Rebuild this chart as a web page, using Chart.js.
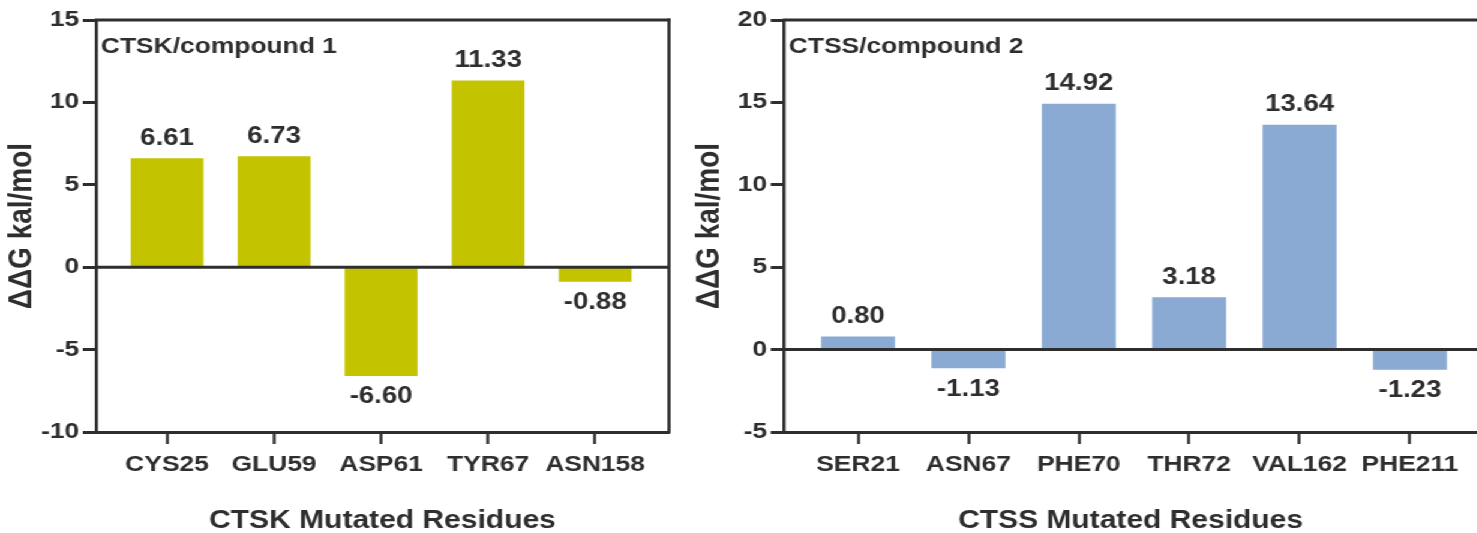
<!DOCTYPE html>
<html>
<head>
<meta charset="utf-8">
<script src="https://cdn.jsdelivr.net/npm/chart.js@4"></script>
<style>
  body { margin: 0; background: #fff; overflow: hidden; }
  /* the source figure is stretched sideways, so the whole drawing is too */
  #wrap { position: relative; width: 1231px; height: 533px; transform: scaleX(1.2); transform-origin: 0 0; }
  #wrap canvas { position: absolute; top: 0; }
</style>
</head>
<body>
<div id="wrap">
  <canvas id="ctsk" width="573" height="533" style="left:0"></canvas>
  <canvas id="ctss" width="658" height="533" style="left:573px"></canvas>
</div>
<script>
const ctskResidues = ["CYS25", "GLU59", "ASP61", "TYR67", "ASN158"];
const ctskDeltaG = [6.61, 6.73, -6.60, 11.33, -0.88];

const ctssResidues = ["SER21", "ASN67", "PHE70", "THR72", "VAL162", "PHE211"];
const ctssDeltaG = [0.80, -1.13, 14.92, 3.18, 13.64, -1.23];

const yTitle = "ΔΔG kal/mol";

const INK = "#2e2e2e";
const FONT = '"Liberation Sans", Arial, sans-serif';

function framePlugin(panelTitle, closeRight) {
  return {
    id: "frame",
    afterDatasetsDraw(chart) {
      const { ctx, chartArea: a, scales: { y } } = chart;
      ctx.save();
      ctx.strokeStyle = INK;
      ctx.lineWidth = 3;
      ctx.beginPath();
      ctx.moveTo(a.left - 1, a.top);
      ctx.lineTo(a.right + 1, a.top);
      const y0 = y.getPixelForValue(0);
      ctx.moveTo(a.left, y0);
      ctx.lineTo(a.right, y0);
      ctx.stroke();
      if (closeRight) {
        ctx.lineWidth = 2.6;
        ctx.beginPath();
        ctx.moveTo(a.right, a.top - 1.5);
        ctx.lineTo(a.right, a.bottom + 1.5);
        ctx.stroke();
      }

      // value over / under each bar
      ctx.fillStyle = INK;
      ctx.font = "bold 23px " + FONT;
      ctx.textAlign = "center";
      ctx.textBaseline = "middle";
      const meta = chart.getDatasetMeta(0);
      chart.data.datasets[0].data.forEach((d, i) => {
        const bar = meta.data[i];
        ctx.fillText(d.y.toFixed(2), bar.x, d.y >= 0 ? bar.y - 20 : bar.y + 21);
      });

      ctx.font = "bold 22px " + FONT;
      ctx.textAlign = "left";
      ctx.fillText(panelTitle, a.left + 4, a.top + 27);
      ctx.restore();
    },
  };
}

function makeChart(id, residues, values, opts) {
  return new Chart(document.getElementById(id), {
    type: "bar",
    data: {
      datasets: [
        {
          data: values.map((v, i) => ({ x: i, y: v })),
          backgroundColor: opts.color,
          barPercentage: opts.barFrac,
          categoryPercentage: 1,
        },
      ],
    },
    options: {
      responsive: false,
      animation: false,
      devicePixelRatio: 1,
      layout: { padding: { top: 20, right: opts.padRight, left: 0, bottom: 0 } },
      plugins: { legend: { display: false }, tooltip: { enabled: false } },
      scales: {
        x: {
          type: "linear",
          min: opts.xMin,
          max: opts.xMax,
          offset: false,
          afterBuildTicks: (s) => {
            s.ticks = residues.map((_, i) => ({ value: i }));
          },
          afterFit: (s) => {
            s.height = 101;
          },
          grid: { offset: false, drawOnChartArea: false, tickLength: 12, tickWidth: 2.4, tickColor: INK },
          border: { color: INK, width: 3 },
          ticks: {
            callback: (v) => residues[v],
            color: INK,
            font: { family: FONT, size: 22, weight: "bold" },
            padding: 8,
            maxRotation: 0,
            autoSkip: false,
          },
          title: {
            display: true,
            text: opts.xTitle,
            color: INK,
            font: { family: FONT, size: 25, weight: "bold", lineHeight: 1 },
            padding: { top: 0, bottom: -1 },
          },
        },
        y: {
          min: opts.yMin,
          max: opts.yMax,
          afterFit: (s) => {
            s.width = opts.axisWidth;
          },
          grid: { drawOnChartArea: false, tickLength: 11, tickWidth: 3, tickColor: INK },
          border: { color: INK, width: 2.6 },
          ticks: {
            stepSize: 5,
            color: INK,
            font: { family: FONT, size: 22, weight: "bold" },
            padding: 3,
          },
          title: {
            display: true,
            text: yTitle,
            color: INK,
            font: { family: FONT, size: 28, weight: "bold" },
            padding: { top: 1, bottom: 0 },
          },
        },
      },
    },
    plugins: [framePlugin(opts.panelTitle, opts.closeRight)],
  });
}

makeChart("ctsk", ctskResidues, ctskDeltaG, {
  color: "#c3c300",
  barFrac: 0.68,
  xMin: -0.664,
  xMax: 4.69,
  yMin: -10,
  yMax: 15,
  axisWidth: 80,
  padRight: 15.5,
  xTitle: "CTSK Mutated Residues",
  panelTitle: "CTSK/compound 1",
  closeRight: true,
});

makeChart("ctss", ctssResidues, ctssDeltaG, {
  color: "#8aaad4",
  barFrac: 0.67,
  xMin: -0.671,
  xMax: 5.609,
  yMin: -5,
  yMax: 20,
  axisWidth: 80.3,
  padRight: 0,
  xTitle: "CTSS Mutated Residues",
  panelTitle: "CTSS/compound 2",
  closeRight: false,
});
</script>
</body>
</html>
